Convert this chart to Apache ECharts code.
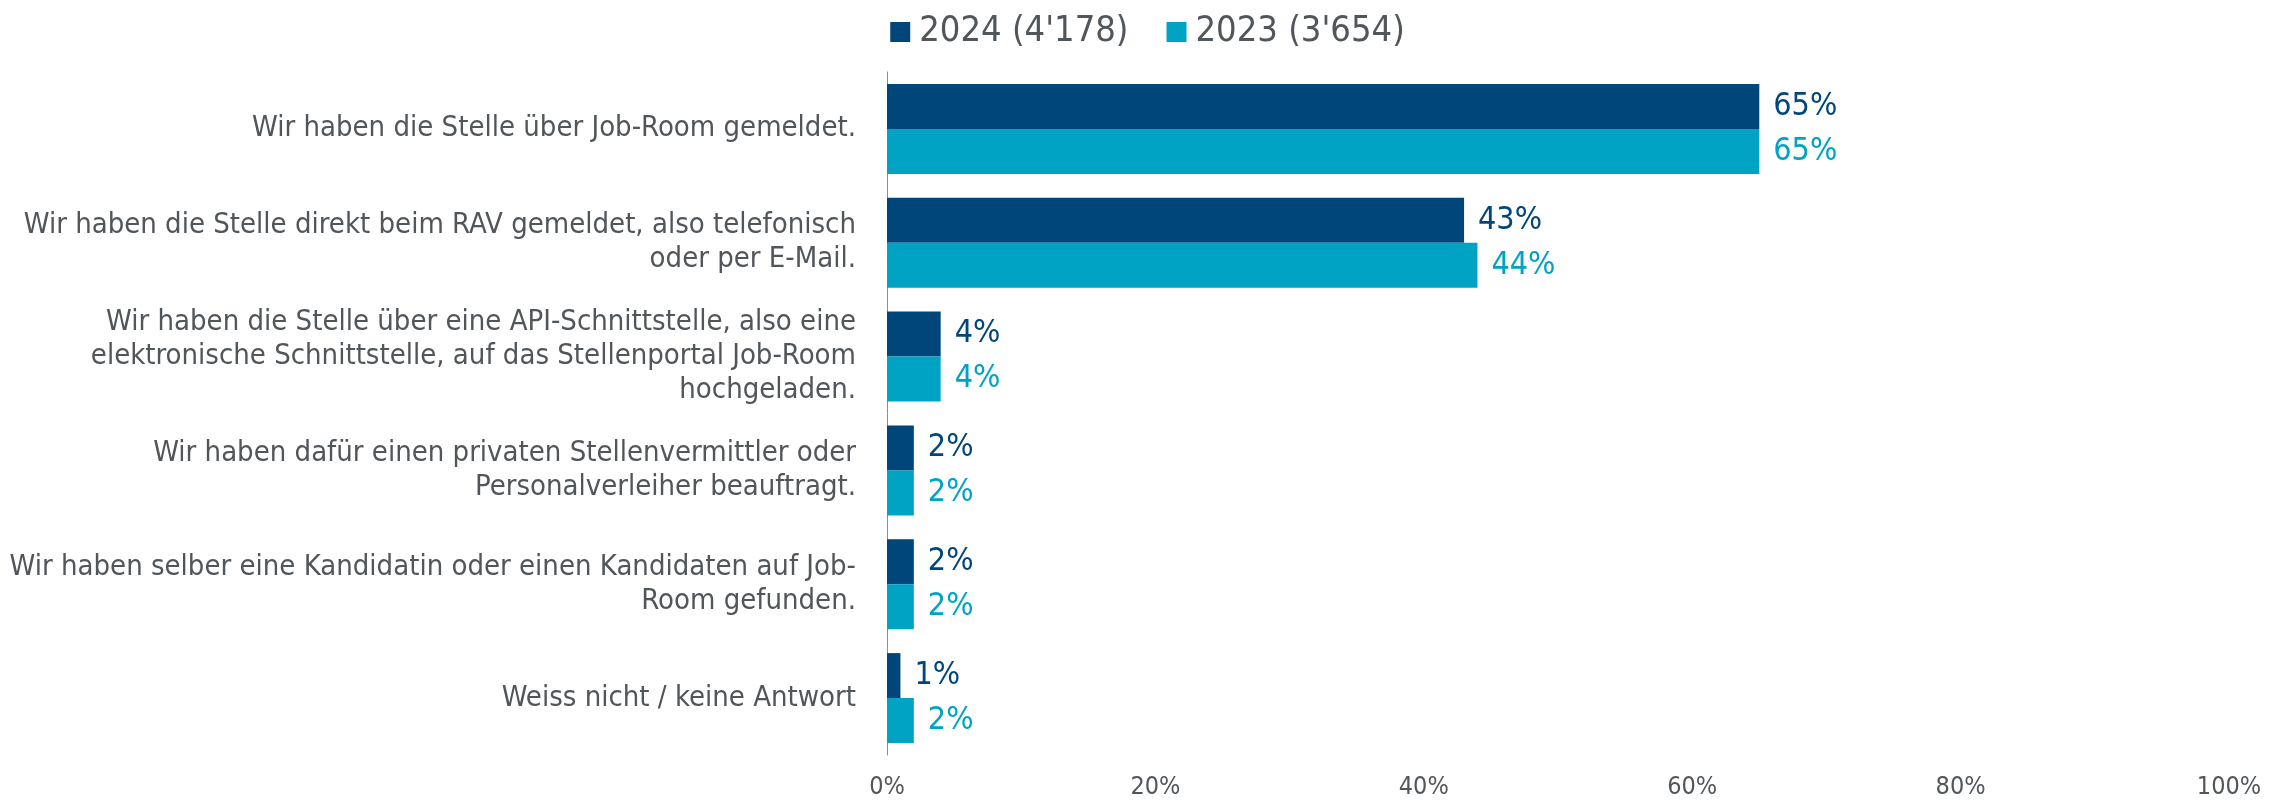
<!DOCTYPE html>
<html>
<head>
<meta charset="utf-8">
<script src="https://cdn.jsdelivr.net/npm/echarts@6/dist/echarts.min.js"></script>
<style>
  html, body { margin: 0; padding: 0; background: #fff; }
  #chart { width: 2295px; height: 802px; }
</style>
</head>
<body>
<div id="chart"></div>
<script>
const categories = [
  'Wir haben die Stelle über Job-Room gemeldet.',
  'Wir haben die Stelle direkt beim RAV gemeldet, also telefonisch\noder per E-Mail.',
  'Wir haben die Stelle über eine API-Schnittstelle, also eine\nelektronische Schnittstelle, auf das Stellenportal Job-Room\nhochgeladen.',
  'Wir haben dafür einen privaten Stellenvermittler oder\nPersonalverleiher beauftragt.',
  'Wir haben selber eine Kandidatin oder einen Kandidaten auf Job-\nRoom gefunden.',
  'Weiss nicht / keine Antwort',
];
const seriesNames = ["2024 (4'178)", "2023 (3'654)"];
const values2024 = [65, 43, 4, 2, 2, 1];
const values2023 = [65, 44, 4, 2, 2, 2];
const xTicks = [0, 20, 40, 60, 80, 100];

const FONT = '"DejaVu Sans Condensed", "DejaVu Sans", sans-serif';
const TEXT = '#51565b';
const DARK = '#00467a';
const LIGHT = '#00a3c4';

const chart = echarts.init(document.getElementById('chart'));

function barSeries(name, data, color) {
  return {
    name,
    type: 'bar',
    data,
    barGap: '0%',
    barCategoryGap: '21%',
    itemStyle: { color },
    label: {
      show: true,
      position: 'right',
      distance: 14,
      color,
      fontFamily: FONT,
      fontSize: 32,
      formatter: p => p.value + '%',
    },
  };
}

const option = {
  animation: false,
  textStyle: { fontFamily: FONT },
  legend: {
    top: 9,
    left: 'center',
    itemWidth: 20,
    itemHeight: 20,
    itemGap: 38,
    icon: 'rect',
    textStyle: { color: TEXT, fontSize: 36, fontFamily: FONT, padding: [0, 0, 0, 4] },
    data: seriesNames,
  },
  grid: { left: 887, right: 66, top: 72, bottom: 47, containLabel: false },
  xAxis: {
    type: 'value',
    min: xTicks[0],
    max: xTicks[xTicks.length - 1],
    interval: 20,
    axisLine: { show: false },
    axisTick: { show: false },
    splitLine: { show: false },
    axisLabel: {
      color: TEXT,
      fontSize: 25,
      fontFamily: FONT,
      margin: 20,
      formatter: v => v + '%',
    },
  },
  yAxis: {
    type: 'category',
    data: categories,
    inverse: true,
    axisLine: { lineStyle: { color: '#8c8c8c', width: 1 } },
    axisTick: { show: false },
    axisLabel: {
      color: TEXT,
      fontSize: 29,
      fontFamily: FONT,
      lineHeight: 34,
      margin: 31,
      align: 'right',
    },
  },
  series: [
    barSeries(seriesNames[0], values2024, DARK),
    barSeries(seriesNames[1], values2023, LIGHT),
  ],
};

chart.setOption(option);
</script>
</body>
</html>
